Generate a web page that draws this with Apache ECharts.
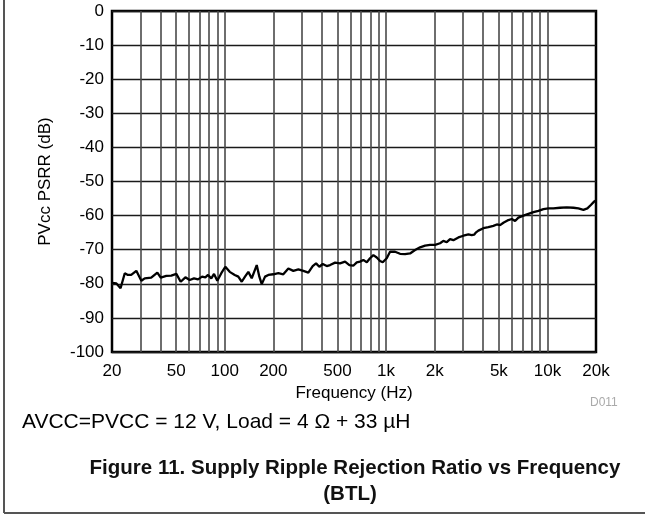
<!DOCTYPE html>
<html>
<head>
<meta charset="utf-8">
<script src="https://cdn.jsdelivr.net/npm/echarts@6/dist/echarts.min.js"></script>
<style>
  html, body { margin: 0; padding: 0; background: #fff; }
  #chart { width: 645px; height: 517px; }
</style>
</head>
<body>
<div id="chart"></div>
<script>
// frequency (Hz) and PVcc PSRR (dB)
var freq = [20, 20.3, 21.3, 22.6, 24.0, 25.1, 26.3, 28.3, 30.4, 31.9, 35.0, 38.2, 40.1, 43.4, 46.6, 50.1,
    53.3, 57.0, 60.6, 64.5, 68.3, 72.3, 75.8, 78.7, 82.5, 85.8, 89.9, 95.2, 100.8, 107.3, 115.3,
    121.3, 127.4, 133.5, 140, 146.9, 157.8, 163.8, 169.5, 177.7, 186.2, 200, 214.8, 230.6, 247.8,
    266, 285.8, 307, 329.6, 350.8, 368, 385.6, 404.8, 428.6, 449.6, 482.8, 518, 556.8, 592, 626,
    658, 689, 723, 759, 795, 834, 875, 917, 953, 1009, 1058, 1136, 1220, 1311, 1408, 1512, 1624,
    1744, 1873, 2012, 2160, 2264, 2377, 2492, 2612, 2806, 3014, 3236, 3396, 3512, 3612, 3732,
    4008, 4306, 4624, 4854, 5088, 5334, 5728, 6012, 6302, 6606, 7096, 7620, 8186, 8790, 9442,
    10140, 10890, 11984, 13184, 14488, 15560, 16710, 17688, 18578, 19460, 20000];
var psrr = [-79.7, -79.7, -79.9, -81.3, -76.9, -77.4, -77.4, -76.2, -79.1, -78.4, -78.2, -76.7, -78.2, -77.7, -77.6, -77.1,
    -79.4, -78.1, -78.9, -78.4, -78.7, -77.9, -78.1, -77.4, -78.4, -77.1, -79.1, -76.9, -75.0, -76.5, -77.4,
    -77.9, -79.4, -77.9, -76.5, -78.4, -74.5, -77.9, -80.1, -77.9, -77.4, -77.2, -76.9, -77.2, -75.5,
    -76.2, -75.8, -76.2, -76.7, -74.8, -74.0, -75.0, -74.2, -74.8, -74.5, -73.8, -74.0, -73.5, -74.5, -74.7,
    -73.7, -73.5, -73.0, -73.7, -72.5, -71.6, -72.3, -73.3, -73.7, -72.5, -70.6, -70.6, -71.2, -71.3, -71.1, -70.1, -69.3,
    -68.8, -68.6, -68.6, -68.1, -67.4, -67.8, -66.9, -67.2, -66.4, -65.9, -65.5, -65.7, -65.6, -64.9, -64.4,
    -63.7, -63.4, -63.0, -62.6, -62.8, -62.1, -61.3, -61.0, -61.6, -60.6, -60.0, -59.5, -59.0, -58.6, -58.1,
    -57.9, -57.9, -57.7, -57.6, -57.7, -57.9, -58.3, -57.9, -56.9, -55.9, -55.6];

// vertical grid lines (1-2-...-9 per decade) and labelled frequencies
var gridFreqs = [30, 40, 50, 60, 70, 80, 90, 100, 200, 300, 400, 500, 600, 700, 800, 900,
    1000, 2000, 3000, 4000, 5000, 6000, 7000, 8000, 9000, 10000];
var xLabels = [20, 50, 100, 200, 500, 1000, 2000, 5000, 10000, 20000];

var chartDom = document.getElementById('chart');
var myChart = echarts.init(chartDom);
var font = "'Liberation Sans', Arial, sans-serif";

var option = {
    backgroundColor: '#fff',
    animation: false,
    grid: {
        left: 112,
        right: 49,
        top: 11,
        bottom: 165,
        show: true,
        borderColor: '#000',
        borderWidth: 2.5,
        backgroundColor: 'transparent'
    },
    xAxis: {
        type: 'log',
        logBase: 10,
        min: 20,
        max: 20000,
        name: 'Frequency (Hz)',
        nameLocation: 'middle',
        nameGap: 32,
        nameTextStyle: { fontFamily: font, fontSize: 17, color: '#000' },
        axisLine: { show: false },
        axisTick: { show: false },
        splitLine: { show: false },
        axisLabel: {
            customValues: xLabels,
            margin: 11,
            fontFamily: font,
            fontSize: 17,
            color: '#000',
            formatter: function (v) {
                return v >= 1000 ? (v / 1000) + 'k' : String(v);
            }
        }
    },
    yAxis: {
        type: 'value',
        min: -100,
        max: 0,
        interval: 10,
        name: 'PVcc PSRR (dB)',
        nameLocation: 'middle',
        nameGap: 58,
        nameTextStyle: { fontFamily: font, fontSize: 17, color: '#000' },
        axisLine: { show: false },
        axisTick: { show: false },
        axisLabel: { margin: 8, fontFamily: font, fontSize: 17, color: '#000' },
        splitLine: { show: true, lineStyle: { color: '#1a1a1a', width: 1.3 } }
    },
    series: [
        {
            type: 'line',
            data: freq.map(function (f, i) { return [f, psrr[i]]; }),
            showSymbol: false,
            lineStyle: { color: '#000', width: 2.3 },
            markLine: {
                silent: true,
                symbol: 'none',
                label: { show: false },
                lineStyle: { color: '#4a4a4a', width: 1.6, type: 'solid' },
                data: gridFreqs.map(function (f) { return { xAxis: f }; })
            },
            z: 5
        }
    ],
    graphic: [
        { type: 'line', shape: { x1: 4, y1: 0, x2: 4, y2: 513 }, style: { stroke: '#555', lineWidth: 2 } },
        { type: 'line', shape: { x1: 4, y1: 513, x2: 645, y2: 513 }, style: { stroke: '#555', lineWidth: 2 } },
        { type: 'text', x: 590, y: 397, style: { text: 'D011', font: '12px ' + font, fill: '#aaa' } },
        { type: 'text', x: 22, y: 412, style: { text: 'AVCC=PVCC = 12 V, Load = 4 Ω + 33 µH', font: '21px ' + font, fill: '#000' } },
        { type: 'text', x: 355, y: 458, style: { text: 'Figure 11. Supply Ripple Rejection Ratio vs Frequency', font: 'bold 20.5px ' + font, fill: '#111', textAlign: 'center' } },
        { type: 'text', x: 350, y: 484, style: { text: '(BTL)', font: 'bold 20.5px ' + font, fill: '#111', textAlign: 'center' } }
    ]
};
myChart.setOption(option);
</script>
</body>
</html>
